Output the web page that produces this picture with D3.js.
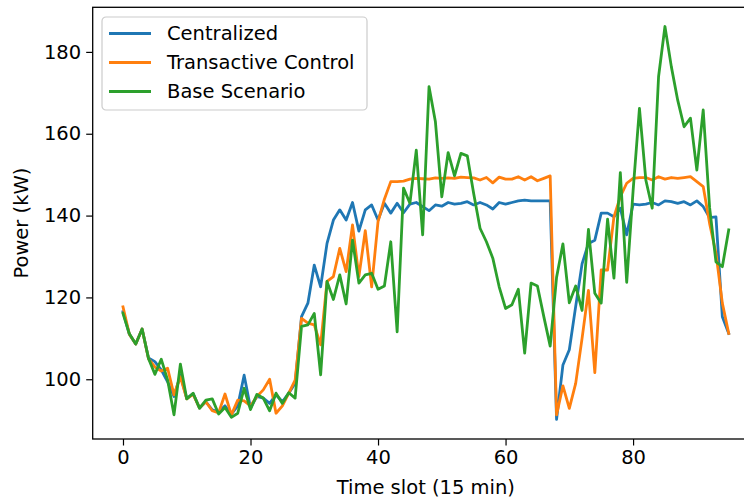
<!DOCTYPE html>
<html>
<head>
<meta charset="utf-8">
<script src="https://cdn.jsdelivr.net/npm/d3@7"></script>
<style>
  body { margin: 0; background: #fff; }
  svg { display: block; font-family: "DejaVu Sans", sans-serif; }
</style>
</head>
<body>
<div class="chart"></div>
<script>
// power per 15-min time slot
const centralized = [
	116.5, 111.0, 108.6, 112.3, 105.2, 104.3, 102.3, 99.4, 95.8, 101.0,
	95.3, 96.5, 93.0, 94.5, 92.5, 92.0, 93.5, 91.5, 93.5, 101.0,
	93.0, 95.8, 95.4, 94.1, 96.2, 94.5, 96.6, 99.0, 115.3, 118.6,
	127.9, 122.6, 133.2, 138.9, 141.4, 138.9, 143.2, 136.2, 141.4, 142.6,
	138.9, 143.0, 140.6, 143.0, 140.7, 142.8, 143.2, 142.2, 141.2, 142.6,
	142.3, 143.2, 142.8, 143.0, 143.4, 142.6, 143.2, 142.6, 141.6, 143.2,
	142.8, 143.2, 143.6, 143.8, 143.6, 143.6, 143.6, 143.6, 90.2, 103.5,
	107.2, 117.8, 128.2, 133.2, 134.0, 140.6, 140.6, 139.7, 141.8, 135.3,
	142.8, 142.6, 142.8, 143.2, 142.6, 143.6, 143.4, 143.0, 143.4, 142.6,
	143.6, 142.2, 139.5, 139.7, 115.3, 111.2
];
const transactive = [
	117.7, 111.0, 108.6, 112.3, 105.0, 103.0, 102.0, 102.7, 96.2, 100.6,
	95.2, 96.3, 93.0, 94.5, 92.3, 91.8, 96.4, 91.3, 94.9, 94.7,
	93.5, 95.8, 97.4, 100.0, 91.7, 93.5, 96.6, 99.8, 114.9, 113.7,
	113.3, 108.4, 123.9, 125.1, 132.0, 126.3, 137.7, 125.1, 136.3, 122.6,
	138.5, 144.0, 148.3, 148.3, 148.4, 148.9, 149.1, 149.0, 148.9, 149.2,
	149.1, 149.2, 149.1, 149.4, 149.3, 149.2, 148.7, 149.3, 148.0, 149.4,
	148.9, 148.9, 149.5, 148.7, 149.5, 148.5, 149.1, 149.7, 91.3, 98.4,
	92.9, 99.0, 110.0, 121.7, 101.6, 126.7, 126.7, 139.7, 144.6, 147.9,
	149.1, 149.3, 149.3, 148.7, 149.5, 148.9, 149.3, 149.1, 149.3, 149.5,
	148.3, 147.1, 138.1, 130.8, 118.6, 111.2
];
const base = [
	116.1, 111.1, 108.6, 112.3, 105.1, 101.2, 104.9, 99.8, 91.3, 103.7,
	95.2, 96.6, 92.9, 94.9, 95.2, 91.5, 93.1, 90.7, 91.7, 97.8,
	92.6, 96.3, 95.4, 92.3, 96.6, 94.1, 96.7, 95.4, 112.9, 113.3,
	116.1, 101.1, 123.9, 119.5, 125.5, 118.4, 134.0, 123.5, 125.5, 125.9,
	122.0, 122.8, 133.6, 111.6, 146.7, 143.0, 156.0, 135.3, 171.5, 162.9,
	144.6, 155.4, 149.7, 155.2, 154.6, 145.4, 136.9, 133.6, 129.6, 122.6,
	117.3, 118.2, 122.0, 106.4, 123.5, 122.8, 115.3, 108.1, 124.9, 133.1,
	118.7, 122.8, 116.8, 136.6, 121.0, 118.6, 139.1, 124.7, 150.5, 123.7,
	146.0, 166.2, 148.7, 141.8, 174.0, 186.2, 176.4, 168.2, 161.7, 163.8,
	151.1, 165.8, 142.0, 128.7, 127.5, 136.5
];
const seriesNames = ['Centralized', 'Transactive Control', 'Base Scenario'];
const colors = ['#1f77b4', '#ff7f0e', '#2ca02c'];
const xTicks = [0, 20, 40, 60, 80];
const yTicks = [100, 120, 140, 160, 180];

const series = [centralized, transactive, base];
const fontSize = '19.5px';

// plot box (right edge runs past the 744px canvas, like the original crop)
const margin = {top: 7.3, left: 92.7};
const width = 759 - margin.left;
const height = 439 - margin.top;

const svg = d3.select('.chart')
	.append('svg')
		.attr('width', 744)
		.attr('height', 500)
	.append('g')
		.attr('transform', `translate(${margin.left}, ${margin.top})`);

const xScale = d3.scaleLinear()
	.domain([-4.75, 99.75])
	.range([0, width]);

const yScale = d3.scaleLinear()
	.domain([85.4, 190.9])
	.range([height, 0]);

const line = d3.line()
	.x((d, i) => xScale(i))
	.y(d => yScale(d));

series.forEach((s, k) => {
	svg.append('path')
		.datum(s)
		.attr('fill', 'none')
		.attr('stroke', colors[k])
		.attr('stroke-width', 2.8)
		.attr('stroke-linejoin', 'round')
		.attr('stroke-linecap', 'square')
		.attr('d', line);
});

// axes
const xAxis = d3.axisBottom(xScale)
	.tickValues(xTicks)
	.tickSizeInner(6.5)
	.tickSizeOuter(0)
	.tickPadding(5);
const gx = svg.append('g')
	.attr('transform', `translate(0, ${height})`)
	.call(xAxis);

const yAxis = d3.axisLeft(yScale)
	.tickValues(yTicks)
	.tickSizeInner(6.5)
	.tickSizeOuter(0)
	.tickPadding(5);
const gy = svg.append('g').call(yAxis);

[gx, gy].forEach(g => {
	g.select('.domain').remove();
	g.selectAll('line').attr('stroke', '#000').attr('stroke-width', 1.2);
	g.selectAll('text')
		.attr('fill', '#000')
		.style('font-size', fontSize)
		.style('font-family', '"DejaVu Sans", sans-serif');
});

// frame
svg.append('rect')
	.attr('x', 0)
	.attr('y', 0)
	.attr('width', width)
	.attr('height', height)
	.attr('fill', 'none')
	.attr('stroke', '#000')
	.attr('stroke-width', 1.3);

// axis labels
svg.append('text')
	.attr('x', width / 2)
	.attr('y', 494 - margin.top)
	.attr('text-anchor', 'middle')
	.style('font-size', fontSize)
	.text('Time slot (15 min)');

svg.append('text')
	.attr('transform', `translate(${28 - margin.left}, ${height / 2}) rotate(-90)`)
	.attr('text-anchor', 'middle')
	.style('font-size', fontSize)
	.text('Power (kW)');

// legend
const legend = svg.append('g')
	.attr('transform', `translate(${102 - margin.left}, ${17 - margin.top})`);

legend.append('rect')
	.attr('width', 265)
	.attr('height', 93)
	.attr('rx', 4)
	.attr('fill', 'rgba(255,255,255,0.8)')
	.attr('stroke', '#cccccc')
	.attr('stroke-width', 1.2);

seriesNames.forEach((name, k) => {
	const row = legend.append('g')
		.attr('transform', `translate(0, ${16.5 + k * 29})`);
	row.append('line')
		.attr('x1', 7)
		.attr('x2', 49)
		.attr('stroke', colors[k])
		.attr('stroke-width', 2.8);
	row.append('text')
		.attr('x', 65)
		.attr('dy', '0.35em')
		.style('font-size', fontSize)
		.text(name);
});
</script>
</body>
</html>
